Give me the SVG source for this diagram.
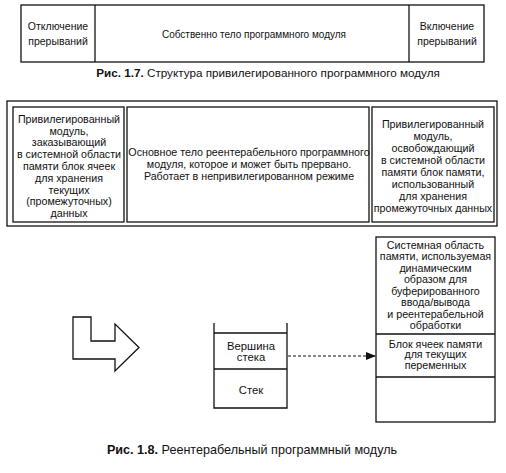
<svg xmlns="http://www.w3.org/2000/svg" width="506" height="473" viewBox="0 0 506 473">
<style>
.b{fill:none;stroke:#111;stroke-width:1.3}
.t{font-family:"Liberation Sans",Arial,sans-serif;font-size:10.7px;fill:#111;text-anchor:middle}
.t10{font-size:10px}
.t105{font-size:10.5px}
.t11{font-size:11.3px}
.cap{font-family:"Liberation Sans",Arial,sans-serif;font-size:11.7px;fill:#111;text-anchor:middle}
.cap2{font-size:12.6px}
.bold{font-weight:bold}
</style>
<defs>
<marker id="ah" markerWidth="10" markerHeight="8" refX="9" refY="4" orient="auto" markerUnits="userSpaceOnUse">
<path d="M0,0 L10,4 L0,8 Z" fill="#111"/>
</marker>
</defs>
<rect width="506" height="473" fill="#fff"/>

<g id="fig17">
<rect class="b" x="21" y="5" width="463" height="57"/>
<g id="n17a">
<line class="b" x1="95" y1="5" x2="95" y2="62"/>
<text class="t t105" x="58" y="29.5">Отключение</text>
<text class="t t105" x="58" y="44.5">прерываний</text>
</g>
<g id="n17b">
<text class="t t10" x="254" y="37.5">Собственно тело программного модуля</text>
</g>
<g id="n17c">
<line class="b" x1="409" y1="5" x2="409" y2="62"/>
<text class="t t105" x="447" y="29.5">Включение</text>
<text class="t t105" x="447" y="44.5">прерываний</text>
</g>
<text class="cap" x="268" y="77"><tspan class="bold">Рис. 1.7.</tspan> Структура привилегированного программного модуля</text>
</g>

<g id="fig18top">
<rect class="b" x="7" y="101" width="490" height="125"/>
<g id="n18a">
<rect class="b" x="13" y="107" width="111" height="115"/>
<text class="t" x="69" y="122.8">Привилегированный</text>
<text class="t" x="69" y="134.6">модуль,</text>
<text class="t" x="69" y="146.4">заказывающий</text>
<text class="t" x="69" y="158.2">в системной области</text>
<text class="t" x="69" y="170">памяти блок ячеек</text>
<text class="t" x="69" y="181.8">для хранения</text>
<text class="t" x="69" y="193.6">текущих</text>
<text class="t" x="69" y="205.4">(промежуточных)</text>
<text class="t" x="69" y="217.2">данных</text>
</g>
<g id="n18b">
<rect class="b" x="127" y="107" width="242" height="115"/>
<text class="t" x="249" y="155.8">Основное тело реентерабельного программного</text>
<text class="t" x="249" y="167.8">модуля, которое и может быть прервано.</text>
<text class="t" x="249" y="179.8">Работает в непривилегированном режиме</text>
</g>
<g id="n18c">
<rect class="b" x="372" y="107" width="122" height="115"/>
<text class="t" x="433" y="127.8">Привилегированный</text>
<text class="t" x="433" y="139.8">модуль,</text>
<text class="t" x="433" y="151.8">освобождающий</text>
<text class="t" x="433" y="163.8">в системной области</text>
<text class="t" x="433" y="175.8">памяти  блок памяти,</text>
<text class="t" x="433" y="187.8">использованный</text>
<text class="t" x="433" y="199.8">для хранения</text>
<text class="t" x="433" y="211.8">промежуточных данных</text>
</g>
</g>

<g id="bigArrow">
<path class="b" d="M73,317 L91,317 L91,341 L115,341 L115,324 L139,347.5 L115,371 L115,359 L73,359 Z"/>
</g>

<g id="stack">
<path class="b" d="M214,323 L214,408 L287,408 L287,323"/>
<line class="b" x1="214" y1="333" x2="287" y2="333"/>
<line class="b" x1="214" y1="369" x2="287" y2="369"/>
<text class="t t11" x="251" y="350">Вершина</text>
<text class="t t11" x="251" y="361">стека</text>
<text class="t t11" x="251" y="394">Стек</text>
</g>

<g id="memory">
<rect class="b" x="376" y="237" width="119" height="185"/>
<line class="b" x1="376" y1="334" x2="495" y2="334"/>
<line class="b" x1="376" y1="377" x2="495" y2="377"/>
<text class="t" x="435.5" y="248.8">Системная область</text>
<text class="t" x="435.5" y="260.3">памяти, используемая</text>
<text class="t" x="435.5" y="271.8">динамическим</text>
<text class="t" x="435.5" y="283.3">образом для</text>
<text class="t" x="435.5" y="294.8">буферированного</text>
<text class="t" x="435.5" y="306.3">ввода/вывода</text>
<text class="t" x="435.5" y="317.8">и реентерабельной</text>
<text class="t" x="435.5" y="329.3">обработки</text>
<text class="t" x="435.5" y="347.8">Блок ячеек памяти</text>
<text class="t" x="435.5" y="358.3">для текущих</text>
<text class="t" x="435.5" y="368.8">переменных</text>
</g>

<g id="connectors">
<line x1="288" y1="356" x2="375" y2="356" stroke="#111" stroke-width="1.2" stroke-dasharray="3,2" marker-end="url(#ah)"/>
</g>

<text class="cap cap2" x="252" y="454"><tspan class="bold">Рис. 1.8.</tspan> Реентерабельный программный модуль</text>
</svg>
